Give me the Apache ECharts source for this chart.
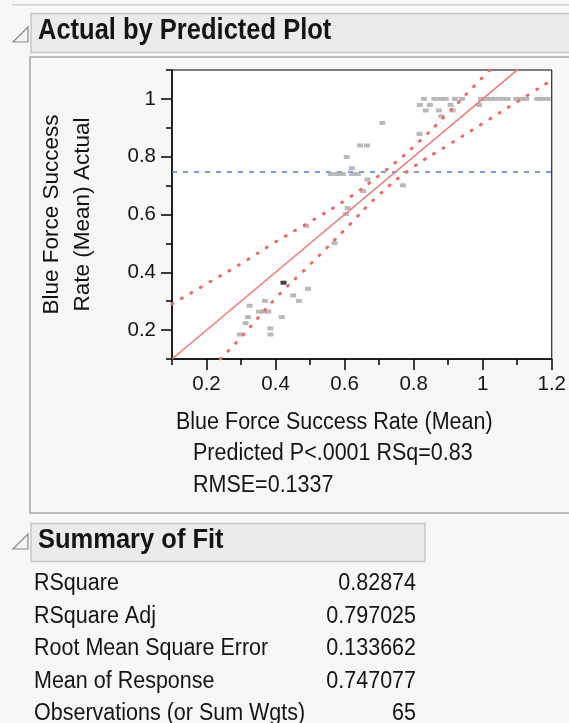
<!DOCTYPE html>
<html><head><meta charset="utf-8">
<script src="https://cdn.jsdelivr.net/npm/echarts@6/dist/echarts.min.js"></script>
<style>html,body{margin:0;padding:0;background:#f7f7f7}#c{width:569px;height:723px}</style>
</head><body><div id="c"></div>
<script>
// ---- data ----
const predicted = [0.609,0.604,0.489,0.571,0.423,0.494,0.451,0.468,0.369,0.325,0.352,0.366,0.379,0.320,0.418,0.313,0.385,0.297,0.385,
  0.709,0.645,0.665,0.606,0.621,0.560,0.578,0.595,0.622,0.638,0.666,0.654,0.769,0.817,
  0.835,0.873,0.913,0.880,0.818,0.847,0.907,0.989,
  0.830,0.860,0.877,0.893,0.920,0.940,0.995,1.010,1.025,1.038,1.056,1.072,1.097,1.112,1.126,1.158,1.172,1.188];
const actual = [0.622,0.602,0.561,0.501,0.364,0.343,0.320,0.301,0.301,0.284,0.264,0.264,0.264,0.245,0.245,0.224,0.206,0.185,0.185,
  0.917,0.839,0.839,0.799,0.760,0.740,0.740,0.740,0.740,0.740,0.721,0.681,0.701,0.879,
  0.960,0.960,0.960,0.940,0.979,0.979,0.979,0.979,
  1,1,1,1,1,1,1,1,1,1,1,1,1,1,1,1,1,1];
const highlightIndex = 4;
const fitX = [0.1, 1.2];
const fitY = [0.1, 1.2];
const upperX = [0.1,0.2,0.3,0.4,0.5,0.6,0.7,0.8,0.9,1.0,1.05];
const upperY = [0.29,0.36,0.43,0.505,0.575,0.648,0.735,0.835,0.952,1.075,1.135];
const lowerX = [0.24,0.3,0.4,0.5,0.6,0.7,0.8,0.9,1.0,1.1,1.2];
const lowerY = [0.1,0.175,0.31,0.427,0.547,0.668,0.765,0.84,0.915,0.99,1.065];
const meanResponse = 0.747077;
const xMajorTicks = [0.2,0.4,0.6,0.8,1,1.2];
const xMinorTicks = [0.1,0.3,0.5,0.7,0.9,1.1];
const yMajorTicks = [0.2,0.4,0.6,0.8,1];
const yMinorTicks = [0.1,0.3,0.5,0.7,0.9,1.1];
const summaryLabels = ['RSquare','RSquare Adj','Root Mean Square Error','Mean of Response','Observations (or Sum Wgts)'];
const summaryValues = ['0.82874','0.797025','0.133662','0.747077','65'];
const xTitle = 'Blue Force Success Rate (Mean)';
const yTitle = 'Blue Force Success\nRate (Mean) Actual';
const statLines = ['Predicted P<.0001 RSq=0.83','RMSE=0.1337'];

// ---- chart ----
const FF = '"Liberation Sans", Arial, sans-serif';
const TXT = '#141414';
const chart = echarts.init(document.getElementById('c'), null, {renderer:'canvas'});
const pts = predicted.map((x,i)=> i===highlightIndex
  ? {value:[x,actual[i]], itemStyle:{color:'#111'}}
  : [x,actual[i]]);
const zip = (a,b)=>a.map((v,i)=>[v,b[i]]);
const tickStyle = {color:'#000', width:1.5};
const txt = (t, x, y, font, align, sy) => ({type:'text', x:x, y:y, scaleY:sy||1.1,
  style:{text:t, x:0, y:0, font:font, fill:TXT, align:align||'left', verticalAlign:'middle'}});

const graphics = [
  {type:'rect', shape:{x:12,y:4,width:570,height:1.5}, style:{fill:'#cfcfcf'}},
  {type:'rect', shape:{x:31,y:13.5,width:560,height:39}, style:{fill:'#ebebeb', stroke:'#c6c6c6', lineWidth:1.5}},
  {type:'polygon', shape:{points:[[13,42],[28,42],[28,27]]}, style:{fill:'#f4f4f4', stroke:'#8a8a8a', lineWidth:1.2}},
  txt('Actual by Predicted Plot', 38, 31, 'bold 25.5px '+FF, 'left', 1.12),
  {type:'rect', shape:{x:30,y:57,width:560,height:456}, style:{fill:'none', stroke:'#a4a4a4', lineWidth:1.5}},
  txt(xTitle, 176, 422, '21.5px '+FF),
  txt(statLines[0], 193, 453.5, '21.5px '+FF),
  txt(statLines[1], 193, 485.5, '21.5px '+FF),
  {type:'rect', shape:{x:31,y:523.5,width:394,height:38}, style:{fill:'#ebebeb', stroke:'#c6c6c6', lineWidth:1.5}},
  {type:'polygon', shape:{points:[[13,549],[28,549],[28,534]]}, style:{fill:'#f4f4f4', stroke:'#8a8a8a', lineWidth:1.2}},
  txt('Summary of Fit', 38, 541, 'bold 25.5px '+FF, 'left', 1.05)
];
const rowY = [583.5,616.5,648.5,681,713];
summaryLabels.forEach((t,i)=>{
  graphics.push(txt(t, 34, rowY[i], '21.5px '+FF));
  graphics.push(txt(summaryValues[i], 416, rowY[i], '21.5px '+FF, 'right'));
});

chart.setOption({
  backgroundColor:'#f7f7f7',
  animation:false,
  grid:{left:172, top:70, width:383, height:289, show:true, backgroundColor:'#ffffff', borderColor:'#000', borderWidth:1},
  xAxis:[
    {type:'value', min:0.1, max:1.2, position:'bottom',
     axisLine:{show:true, lineStyle:tickStyle},
     axisTick:{show:true, customValues:xMajorTicks, length:11, lineStyle:tickStyle},
     axisLabel:{customValues:xMajorTicks, fontSize:20.5, color:TXT, margin:15, fontFamily:FF, showMaxLabel:true},
     splitLine:{show:false}},
    {type:'value', min:0.1, max:1.2, position:'bottom', offset:0,
     axisLine:{show:false},
     axisTick:{show:true, customValues:xMinorTicks, length:6, lineStyle:tickStyle},
     axisLabel:{show:false}, splitLine:{show:false}}
  ],
  yAxis:[
    {type:'value', min:0.1, max:1.1, position:'left',
     axisLine:{show:true, lineStyle:tickStyle},
     axisTick:{show:true, customValues:yMajorTicks, length:11, lineStyle:tickStyle},
     axisLabel:{customValues:yMajorTicks, fontSize:20.5, color:TXT, margin:16, fontFamily:FF},
     splitLine:{show:false},
     name:yTitle, nameLocation:'middle', nameRotate:90, nameGap:73,
     nameTextStyle:{fontSize:22.5, lineHeight:31.5, color:TXT, fontFamily:FF, align:'center'}},
    {type:'value', min:0.1, max:1.1, position:'left', offset:0,
     axisLine:{show:false},
     axisTick:{show:true, customValues:yMinorTicks, length:6, lineStyle:tickStyle},
     axisLabel:{show:false}, splitLine:{show:false}}
  ],
  graphic:{elements:graphics},
  series:[
    {type:'line', data:[[0.1,meanResponse],[1.2,meanResponse]], symbol:'none', silent:true,
     lineStyle:{color:'#4f7fe6', width:1.6, type:[5,6]}, z:2},
    {type:'scatter', data:pts, symbol:'rect', symbolSize:[6,4], itemStyle:{color:'#a8a8a8'}, z:3},
    {type:'line', data:zip(fitX,fitY), symbol:'none', lineStyle:{color:'#f27a7a', width:1.6}, z:4},
    {type:'line', data:zip(upperX,upperY), smooth:true, symbol:'none', lineStyle:{color:'#f06868', width:3, type:[1,10], cap:'round'}, z:4},
    {type:'line', data:zip(lowerX,lowerY), smooth:true, symbol:'none', lineStyle:{color:'#f06868', width:3, type:[1,10], cap:'round'}, z:4}
  ]
});
</script></body></html>
